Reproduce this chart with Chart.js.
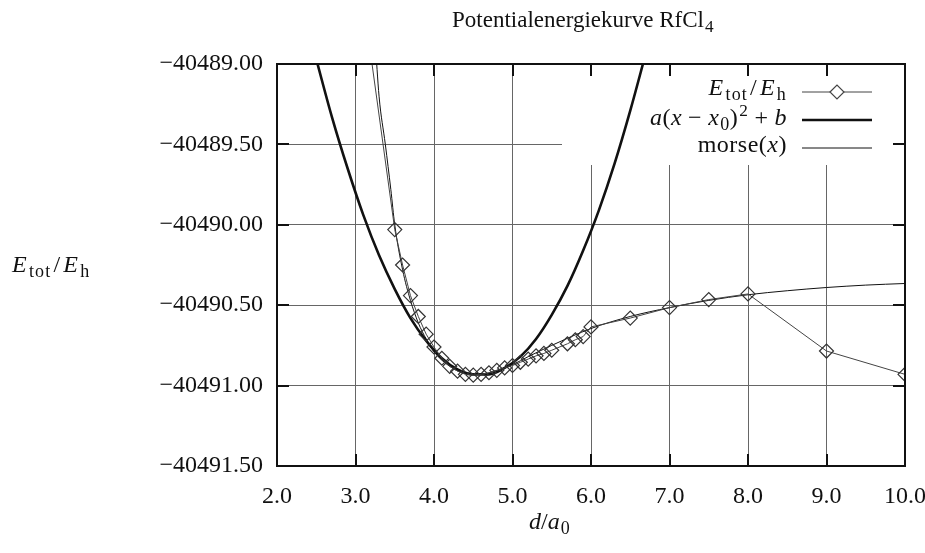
<!DOCTYPE html>
<html>
<head>
<meta charset="utf-8">
<script src="https://cdn.jsdelivr.net/npm/chart.js@4.4.1/dist/chart.umd.min.js"></script>
<style>
  body { margin: 0; background: #fff; }
  #wrap { position: relative; width: 925px; height: 553px; }
  .txt { position: absolute; font-family: 'Liberation Serif', serif; color: #111; line-height: 24px; white-space: nowrap; }
  .txt sub { font-size: 75%; vertical-align: -0.28em; line-height: 0; margin-left: 1px; }
  .txt sup { font-size: 72%; vertical-align: 0.55em; line-height: 0; margin-left: 1px; }
  .txt .op { margin: 0 6px; }
  .eh { letter-spacing: 1.2px; }
  .eh .sl { margin: 0 2px; }
  .leg { right: 138px; font-size: 24px; text-align: right; }
</style>
</head>
<body>
<div id="wrap">
  <canvas id="chart" width="925" height="553"></canvas>
  <div class="txt" style="left:452px; top:8px; font-size:23px;">Potentialenergiekurve RfCl<sub>4</sub></div>
  <div class="txt eh" style="left:12px; top:252px; font-size:24px;"><i>E</i><sub>tot</sub><span class="sl">/</span><i>E</i><sub>h</sub></div>
  <div class="txt" style="left:529px; top:509px; font-size:24px;"><i>d</i>/<i>a</i><sub>0</sub></div>
  <div class="txt leg eh" style="top:75px;"><i>E</i><sub>tot</sub><span class="sl">/</span><i>E</i><sub>h</sub></div>
  <div class="txt leg" style="top:105px; letter-spacing:0.5px;"><i>a</i>(<i>x</i><span class="op">−</span><i>x</i><sub>0</sub>)<sup>2</sup><span class="op">+</span><i>b</i></div>
  <div class="txt leg" style="top:132px; letter-spacing:0.5px;">morse(<i>x</i>)</div>
</div>
<script>
// Achsen
const xTicks = [2, 3, 4, 5, 6, 7, 8, 9, 10];
const yTicks = [-40491.5, -40491.0, -40490.5, -40490.0, -40489.5, -40489.0];

// berechnete Energien (E_tot / E_h)
const energyX = [3.0, 3.5, 3.6, 3.7, 3.8, 3.9, 4.0, 4.1, 4.2, 4.3, 4.4, 4.5, 4.6, 4.7, 4.8, 4.9,
  5.0, 5.1, 5.2, 5.3, 5.4, 5.5, 5.7, 5.8, 5.9, 6.0, 6.5, 7.0, 7.5, 8.0, 9.0, 10.0];
const energyY = [-40488.25, -40490.03, -40490.25, -40490.44, -40490.57, -40490.68, -40490.76,
  -40490.83, -40490.88, -40490.91, -40490.93, -40490.935, -40490.93, -40490.92, -40490.905,
  -40490.89, -40490.875, -40490.855, -40490.835, -40490.815, -40490.80, -40490.78, -40490.74,
  -40490.715, -40490.695, -40490.635, -40490.58, -40490.515, -40490.465, -40490.43,
  -40490.785, -40490.93];

// Parabel a(x-x0)^2+b
const fitX = [2.5, 2.7, 2.9, 3.1, 3.3, 3.5, 3.7, 3.9, 4.1, 4.3, 4.5, 4.7, 4.9, 5.1, 5.3, 5.5,
  5.7, 5.9, 6.1, 6.3, 6.5, 6.7];
const fitY = [-40488.97, -40489.33, -40489.65, -40489.94, -40490.19, -40490.40, -40490.58,
  -40490.72, -40490.83, -40490.90, -40490.93, -40490.93, -40490.89, -40490.82, -40490.71,
  -40490.56, -40490.38, -40490.16, -40489.91, -40489.62, -40489.29, -40488.93];

// Morse-Kurve
const morseX = [3.25, 3.3, 3.38, 3.45, 3.5, 3.6, 3.7, 3.8, 3.9, 4.0, 4.2, 4.4, 4.6, 4.8, 5.0,
  5.2, 5.5, 6.0, 6.5, 7.0, 7.5, 8.0, 8.5, 9.0, 9.5, 10.0];
const morseY = [-40488.85, -40489.2, -40489.5, -40489.78, -40490.0, -40490.28, -40490.47,
  -40490.61, -40490.71, -40490.79, -40490.88, -40490.925, -40490.93, -40490.905, -40490.87,
  -40490.82, -40490.75, -40490.645, -40490.57, -40490.515, -40490.47, -40490.435, -40490.41,
  -40490.39, -40490.375, -40490.365];

const toPoints = (xs, ys) => xs.map((x, i) => ({ x: x, y: ys[i] }));

const serif = "'Liberation Serif', 'Times New Roman', serif";

// Rahmen, Ticks nach innen, Legende
const framePlugin = {
  id: 'frame',
  beforeDatasetsDraw(chart) {
    const { ctx, chartArea: a } = chart;
    ctx.save();
    ctx.fillStyle = '#fff';
    ctx.fillRect(a.right - 343, a.top, 343, 101);
    ctx.restore();
  },
  afterDatasetsDraw(chart) {
    const { ctx, chartArea: a, scales } = chart;
    ctx.save();
    ctx.strokeStyle = '#111';
    ctx.lineWidth = 2;
    ctx.strokeRect(a.left, a.top, a.right - a.left, a.bottom - a.top);

    ctx.beginPath();
    xTicks.forEach(v => {
      const px = Math.round(scales.x.getPixelForValue(v));
      ctx.moveTo(px, a.bottom); ctx.lineTo(px, a.bottom - 12);
      ctx.moveTo(px, a.top); ctx.lineTo(px, a.top + 12);
    });
    yTicks.forEach(v => {
      const py = Math.round(scales.y.getPixelForValue(v));
      ctx.moveTo(a.left, py); ctx.lineTo(a.left + 12, py);
      ctx.moveTo(a.right, py); ctx.lineTo(a.right - 12, py);
    });
    ctx.stroke();

    // Legendenmuster
    const x1 = a.right - 103, x2 = a.right - 33;
    const rows = [a.top + 28, a.top + 56, a.top + 84];
    ctx.lineCap = 'butt';
    ctx.strokeStyle = '#444';
    ctx.lineWidth = 1;
    ctx.beginPath(); ctx.moveTo(x1, rows[0]); ctx.lineTo(x2, rows[0]); ctx.stroke();
    const cx = (x1 + x2) / 2, r = 7;
    ctx.fillStyle = '#fff';
    ctx.beginPath();
    ctx.moveTo(cx - r, rows[0]); ctx.lineTo(cx, rows[0] - r);
    ctx.lineTo(cx + r, rows[0]); ctx.lineTo(cx, rows[0] + r); ctx.closePath();
    ctx.fill(); ctx.lineWidth = 1.2; ctx.stroke();

    ctx.strokeStyle = '#111';
    ctx.lineWidth = 2.6;
    ctx.beginPath(); ctx.moveTo(x1, rows[1]); ctx.lineTo(x2, rows[1]); ctx.stroke();
    ctx.lineWidth = 1;
    ctx.beginPath(); ctx.moveTo(x1, rows[2]); ctx.lineTo(x2, rows[2]); ctx.stroke();
    ctx.restore();
  }
};

new Chart(document.getElementById('chart'), {
  type: 'line',
  data: {
    datasets: [
      {
        label: 'E_tot/E_h',
        data: toPoints(energyX, energyY),
        borderColor: '#444',
        borderWidth: 1,
        tension: 0,
        pointStyle: 'rectRot',
        pointRadius: 7,
        pointBorderWidth: 1.2,
        pointBorderColor: '#333',
        pointBackgroundColor: 'rgba(0,0,0,0)'
      },
      {
        label: 'a(x-x0)^2+b',
        data: toPoints(fitX, fitY),
        borderColor: '#111',
        borderWidth: 2.6,
        cubicInterpolationMode: 'monotone',
        pointRadius: 0
      },
      {
        label: 'morse(x)',
        data: toPoints(morseX, morseY),
        borderColor: '#111',
        borderWidth: 1,
        cubicInterpolationMode: 'monotone',
        pointRadius: 0
      }
    ]
  },
  options: {
    responsive: false,
    animation: false,
    layout: { padding: { left: 0, right: 20, top: 64, bottom: 0 } },
    plugins: {
      legend: { display: false },
      tooltip: { enabled: false }
    },
    scales: {
      x: {
        type: 'linear',
        min: 2,
        max: 10,
        afterBuildTicks: s => { s.ticks = xTicks.map(v => ({ value: v })); },
        afterFit: s => { s.height = 87; s.paddingLeft = 0; s.paddingRight = 0; },
        border: { display: false },
        grid: { color: '#666', lineWidth: 1, drawTicks: false },
        ticks: {
          padding: 16,
          color: '#111',
          maxRotation: 0,
          font: { family: serif, size: 24 },
          callback: v => Number(v).toFixed(1)
        }
      },
      y: {
        type: 'linear',
        min: -40491.5,
        max: -40489,
        afterBuildTicks: s => { s.ticks = yTicks.map(v => ({ value: v })); },
        afterFit: s => { s.width = 277; },
        border: { display: false },
        grid: { color: '#666', lineWidth: 1, drawTicks: false },
        ticks: {
          padding: 14,
          color: '#111',
          font: { family: serif, size: 24 },
          callback: v => '\u2212' + Math.abs(v).toFixed(2)
        }
      }
    }
  },
  plugins: [framePlugin]
});
</script>
</body>
</html>
